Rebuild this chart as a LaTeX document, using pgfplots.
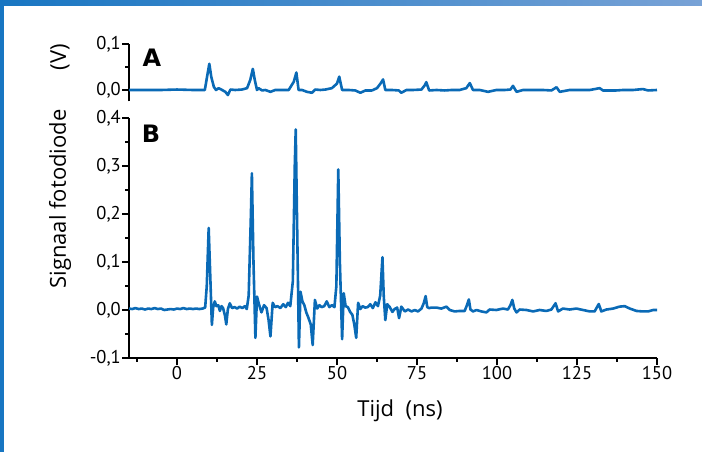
\documentclass[border=0pt]{standalone}
\usepackage{fontspec}
\setmainfont{Open Sans}
\newfontfamily\tickfont{PT Sans}
\newfontfamily\panelfont{DejaVu Sans}
\usepackage{pgfplots}
\pgfplotsset{compat=1.18}
\definecolor{sig}{RGB}{10,106,182}
\definecolor{barL}{RGB}{24,118,194}
\definecolor{barR}{RGB}{120,162,214}

\pgfplotsset{panel/.style={
  scale only axis, width=528pt, xmin=-15, xmax=150,
  axis line style={-, line width=2.4pt, black},
  tick style={line width=2pt, black},
  tick align=outside, major tick length=7pt, minor tick length=4pt,
  ticklabel style={font=\tickfont\fontsize{18.5pt}{19pt}\selectfont, inner sep=1pt},
  clip=false,
}}

\begin{document}
\begin{tikzpicture}
\useasboundingbox (0,0) rectangle (702pt,452pt);
\shade[left color=barL, right color=barR] (0,446pt) rectangle (702pt,452pt);
\fill[barL] (0,0) rectangle (4pt,452pt);

% panel A
\begin{axis}[panel, at={(129pt,350.5pt)}, anchor=south west, height=57.5pt,
  ymin=-0.025, ymax=0.1, axis y line*=left, axis x line=none,
  xtick=\empty, ytick={0,0.1}, yticklabels={{0,0},{0,1}}, minor ytick={0.05}]
\addplot[sig, line width=2.6pt, line join=round] coordinates {
(-15,0) (-10,0) (-5,0) (0,0.001) (5,0) (8.7,0) (9.4,0.029) (10.1,0.057) (10.7,0.029)
(11.5,0.007) (12.2,0) (13.0,0.004) (14.1,0) (15.1,-0.004) (15.9,-0.011) (16.7,0.001)
(18.2,0) (20.3,0.001) (21.9,0.004) (22.9,0.022) (23.7,0.046) (24.3,0.022) (25.0,0)
(25.5,0.004) (26.6,-0.001) (27.6,0) (29.2,-0.004) (30.7,0) (32.8,0) (34.9,0)
(36.5,0.018) (37.3,0.038) (38.0,0) (39.1,0) (40.6,-0.004) (42.2,-0.006) (43.2,0.001)
(44.8,0) (46.4,0.001) (48.4,0.004) (50.0,0.014) (50.7,0.029) (51.6,0) (53.7,0)
(55.7,-0.001) (57.3,-0.006) (58.9,-0.001) (60.9,-0.001) (62.5,0.004) (63.6,0.014)
(64.4,0.023) (65.1,0) (67.2,0) (69.3,-0.001) (70.1,-0.006) (71.7,0) (73.8,0)
(76.4,0.001) (77.4,0.010) (77.9,0.017) (78.8,-0.001) (81.1,0) (83.7,-0.001) (85.8,0)
(88.3,0) (90.4,0.004) (91.5,0.015) (92.5,0) (94.6,0) (97.2,-0.004) (99.8,0) (102.4,0)
(104.2,0.001) (105.0,0.009) (106.1,-0.004) (108.1,0) (111.3,0) (114.4,0) (117.0,-0.001)
(118.6,0.006) (119.6,-0.004) (122.7,0) (125.8,0) (129.0,0) (132.1,0.004) (133.1,-0.001)
(135.2,-0.001) (137.3,-0.001) (139.4,0) (142.5,0) (145.6,0.002) (147.2,-0.001) (150,0)
};
\end{axis}

% panel B
\begin{axis}[panel, at={(129pt,94pt)}, anchor=south west, height=240pt,
  ymin=-0.1, ymax=0.4, axis x line*=bottom, axis y line*=left,
  xtick={0,25,...,150}, xticklabels={0,25,50,75,100,125,150},
  minor xtick={-12.5,12.5,37.5,62.5,87.5,112.5,137.5},
  ytick={-0.1,0,0.1,0.2,0.3,0.4},
  yticklabels={{-0,1},{0,0},{0,1},{0,2},{0,3},{0,4}},
  minor ytick={-0.05,0.05,0.15,0.25,0.35}]
\addplot[sig, line width=2.6pt, line join=round] coordinates {
(-15,0.003) (-14,0.002) (-13,0.004) (-12,0.002) (-11,0.003) (-10,0.001) (-9,0.003)
(-8,0.002) (-7,0.004) (-6,0.002) (-5,0.003) (-4,0.000) (-3,0.001) (-2,0.002) (-1,0.001)
(0,0.003) (1,0.002) (2,0.004) (3,0.002) (4,0.003) (5,0.002) (6,0.003) (7,0.002) (8,0.003)
(8.8,0.005) (9.3,0.05) (9.9,0.171) (10.5,0.05) (10.9,-0.031) (11.3,0.005) (11.8,0.018)
(12.3,0.008) (12.9,0.010) (13.4,-0.002) (13.9,0.008) (14.4,0.004) (15.0,-0.012)
(15.4,-0.030) (15.9,0.002) (16.5,0.014) (17.2,0.004) (18,0.006) (18.8,0.003) (19.6,0.007)
(20.4,0.004) (21.2,0.008) (21.8,0.002) (22.4,0.03) (23.1,0.2) (23.4,0.285) (23.9,0.1)
(24.5,-0.058) (25.0,0.028) (25.6,0.012) (26.4,-0.005) (27.2,0.010) (28.0,0.004)
(28.6,-0.020) (29.2,-0.055) (29.9,0.015) (30.6,0.006) (31.4,0.008) (32.3,0.004)
(33.2,0.012) (34.0,0.006) (34.7,0.015) (35.4,0.008) (36.2,0.06) (36.8,0.3) (37.1,0.376)
(37.6,0.15) (38.1,-0.078) (38.6,0.038) (39.2,0.018) (39.8,0.010) (40.4,-0.005)
(41.0,-0.015) (41.8,-0.030) (42.4,-0.073) (43.1,0.021) (43.8,0.003) (44.5,0.010)
(45.2,0.006) (46.0,0.008) (46.8,0.018) (47.6,0.006) (48.4,0.010) (49.2,0.006)
(49.8,0.05) (50.4,0.293) (50.9,0.1) (51.6,-0.061) (52.1,0.035) (52.7,0.008) (53.4,0.006)
(54.1,-0.004) (54.8,-0.010) (55.4,-0.030) (56.0,-0.058) (56.6,0.015) (57.3,0.002)
(58.0,0.008) (58.8,0.005) (59.6,0.006) (60.4,0.012) (61.2,0.004) (62.0,0.016)
(62.8,0.008) (63.5,0.03) (64.2,0.110) (64.6,0.03) (65.1,-0.021) (65.7,0.012) (66.5,0.006)
(67.3,-0.004) (68.0,0.002) (68.8,0.005) (69.4,-0.017) (70.1,0.007) (71.2,-0.003)
(72.2,0.001) (73.3,-0.003) (74.3,0.0) (75.3,-0.003) (76.4,0.003) (77.1,0.014)
(77.7,0.029) (78.2,0.006) (78.8,0.004) (79.5,0.005) (81.1,0.005) (82.6,0.003)
(84.2,0.007) (85.2,0.0) (86.8,-0.003) (88.3,-0.002) (89.9,-0.002) (90.6,0.01)
(91.2,0.022) (91.7,0.001) (92.5,-0.003) (93.6,0.0) (95.1,-0.003) (96.7,-0.005)
(97.7,0.001) (99.8,0.0) (101.9,0.003) (103.4,0.001) (104.2,0.01) (104.8,0.021)
(105.4,0.003) (106.1,-0.005) (107.1,0.001) (109.2,0.0) (111.3,-0.003) (113.3,0.0)
(115.4,-0.002) (117.0,0.001) (118.3,0.014) (119.1,-0.003) (120.6,0.003) (122.7,0.001)
(124.8,0.003) (126.9,0.0) (129.0,-0.003) (130.5,-0.003) (131.8,0.0125) (132.6,-0.003)
(134.2,0.001) (136.3,0.003) (138.3,0.007) (139.9,0.008) (141.5,0.003) (143.6,-0.002)
(145.6,-0.003) (147.2,-0.003) (148.8,0.0) (150,0.0)
};
\end{axis}

\node[font=\panelfont\bfseries\fontsize{24pt}{24pt}\selectfont] at (152pt,394pt) {A};
\node[font=\panelfont\bfseries\fontsize{24pt}{24pt}\selectfont] at (151pt,318pt) {B};
\node[rotate=90, font=\fontsize{22pt}{24pt}\selectfont] at (60pt,253pt) {Signaal fotodiode};
\node[rotate=90, font=\fontsize{22pt}{24pt}\selectfont] at (60pt,395pt) {(V)};
\node[font=\fontsize{22pt}{24pt}\selectfont] at (400pt,41pt) {Tijd\ \ (ns)};
\end{tikzpicture}
\end{document}
